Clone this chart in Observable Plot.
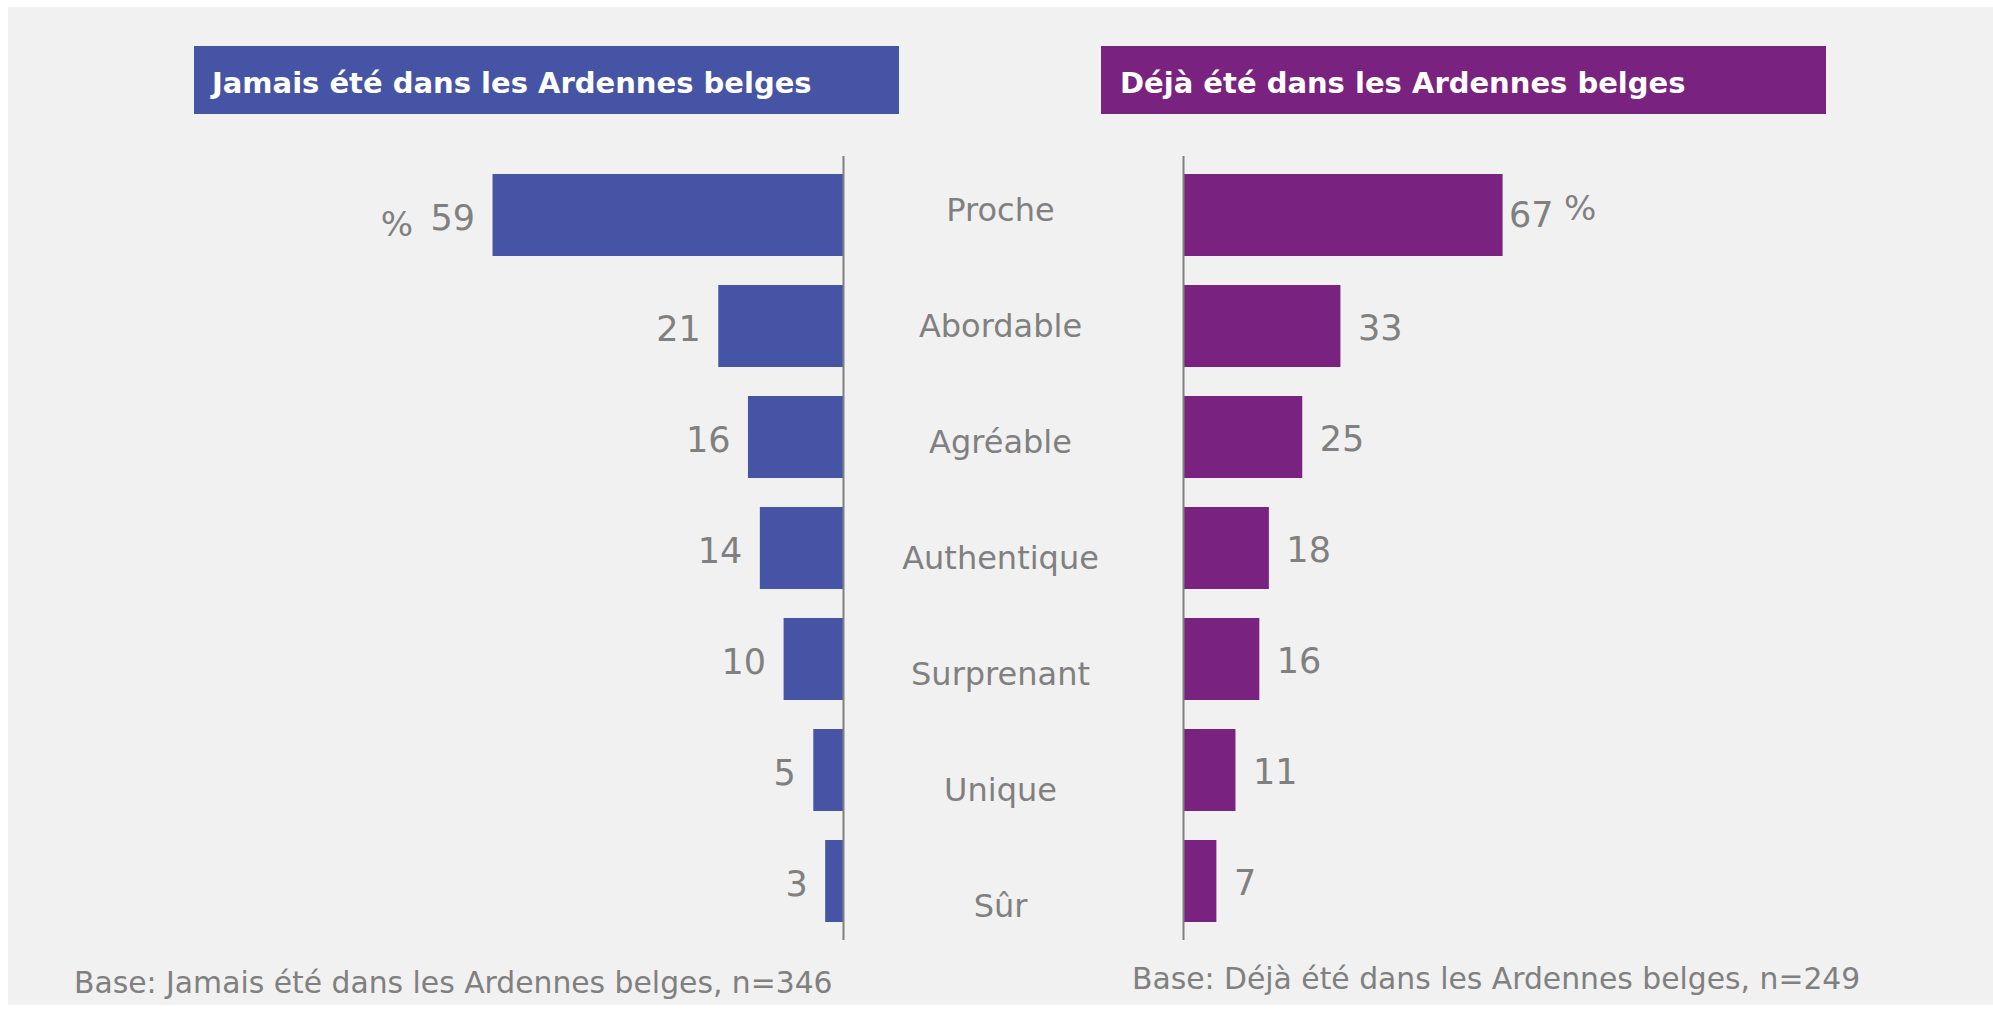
<!DOCTYPE html>
<html>
<head>
<meta charset="utf-8">
<script src="https://cdn.jsdelivr.net/npm/d3@7"></script>
<script src="https://cdn.jsdelivr.net/npm/@observablehq/plot@0.6"></script>
<style>
  html, body { margin: 0; padding: 0; background: #ffffff; }
  #page { position: relative; width: 1993px; height: 1012px; overflow: hidden; font-family: "DejaVu Sans", sans-serif; }
  #bg { position: absolute; left: 8px; top: 7px; width: 1985px; height: 998px; background: #f1f1f1; }
  .hdr { position: absolute; top: 46px; height: 68px; line-height: 74px; overflow: hidden; color: #ffffff;
         font-family: "DejaVu Sans", sans-serif; font-weight: bold; font-size: 29px; white-space: nowrap; box-sizing: border-box; }
  .foot { position: absolute; font-family: "DejaVu Sans", sans-serif; font-size: 29.8px; line-height: 29.8px; color: #808080; white-space: nowrap; }
  .layer { position: absolute; left: 0; top: 0; }
</style>
</head>
<body>
<div id="page">
  <div id="bg"></div>
</div>
<script>
const categories = ["Proche", "Abordable", "Agréable", "Authentique", "Surprenant", "Unique", "Sûr"];
const jamais = [59, 21, 16, 14, 10, 5, 3];
const deja = [67, 33, 25, 18, 16, 11, 7];
const titleLeft = "Jamais été dans les Ardennes belges";
const titleRight = "Déjà été dans les Ardennes belges";
const footLeft = "Base: Jamais été dans les Ardennes belges, n=346";
const footRight = "Base: Déjà été dans les Ardennes belges, n=249";
const unit = "%";

const blue = "#4654a5";
const purple = "#7a2280";
const grey = "#808080";

const page = document.getElementById("page");
const W = 1993, H = 1012;

const leftData = categories.map((c, i) => ({cat: c, v: jamais[i]}));
const rightData = categories.map((c, i) => ({cat: c, v: deja[i]}));

const yBand = {domain: categories, paddingInner: 0.26, paddingOuter: 0.15, axis: null};
const common = {width: W, height: H, marginTop: 156, marginBottom: 72,
  style: {background: "transparent", overflow: "visible"}};

const valueFont = {fontSize: 35, fill: grey, fontFamily: "DejaVu Sans, sans-serif"};
const unitFont = {fontSize: 34, fill: grey, fontFamily: "DejaVu Sans, sans-serif"};

// Left panel
const left = Plot.plot({
  ...common,
  marginLeft: 249, marginRight: W - 843,
  x: {domain: [0, 100], reverse: true, axis: null},
  y: yBand,
  marks: [
    Plot.barX(leftData, {x: "v", y: "cat", fill: blue}),
    Plot.ruleX([0], {stroke: grey, strokeWidth: 2}),
    Plot.text(leftData, {x: "v", y: "cat", text: d => String(d.v), textAnchor: "end", dx: -18, dy: 3, ...valueFont}),
    Plot.text(leftData.slice(0, 1), {x: "v", y: "cat", text: () => unit, textAnchor: "end", dx: -80, dy: 10, ...unitFont})
  ]
});
left.classList.add("layer");
page.appendChild(left);

// Right panel
const right = Plot.plot({
  ...common,
  marginLeft: 1183, marginRight: W - (1183 + 477),
  x: {domain: [0, 100], axis: null},
  y: yBand,
  marks: [
    Plot.barX(rightData, {x: "v", y: "cat", fill: purple}),
    Plot.ruleX([0], {stroke: grey, strokeWidth: 2}),
    Plot.text(rightData.slice(0, 1), {x: "v", y: "cat", text: d => String(d.v), textAnchor: "start", dx: 6, dy: 0, ...valueFont}),
    Plot.text(rightData.slice(1), {x: "v", y: "cat", text: d => String(d.v), textAnchor: "start", dx: 17, dy: 2, ...valueFont}),
    Plot.text(rightData.slice(0, 1), {x: "v", y: "cat", text: () => unit, textAnchor: "start", dx: 61, dy: -6, ...unitFont})
  ]
});
right.classList.add("layer");
page.appendChild(right);

// Center category labels
const center = Plot.plot({
  width: W, height: H, marginTop: 152, marginBottom: H - 964.4,
  marginLeft: 900, marginRight: W - 1100,
  style: {background: "transparent", overflow: "visible"},
  x: {axis: null},
  y: {type: "point", domain: categories, padding: 0.5, axis: null},
  marks: [
    Plot.text(categories, {y: d => d, text: d => d, frameAnchor: "middle", fontSize: 32, fill: grey, fontFamily: "DejaVu Sans, sans-serif"})
  ]
});
center.classList.add("layer");
page.appendChild(center);

// Headers
function addHeader(text, leftPx, widthPx, color, padLeft) {
  const d = document.createElement("div");
  d.className = "hdr";
  d.style.left = leftPx + "px";
  d.style.width = widthPx + "px";
  d.style.background = color;
  d.style.paddingLeft = padLeft + "px";
  d.textContent = text;
  page.appendChild(d);
}
addHeader(titleLeft, 194, 705, blue, 18);
addHeader(titleRight, 1101, 725, purple, 19);

// Footers
function addFoot(text, leftPx, topPx) {
  const d = document.createElement("div");
  d.className = "foot";
  d.style.left = leftPx + "px";
  d.style.top = topPx + "px";
  d.textContent = text;
  page.appendChild(d);
}
addFoot(footLeft, 74, 967.5);
addFoot(footRight, 1132, 963.8);
</script>
</body>
</html>
